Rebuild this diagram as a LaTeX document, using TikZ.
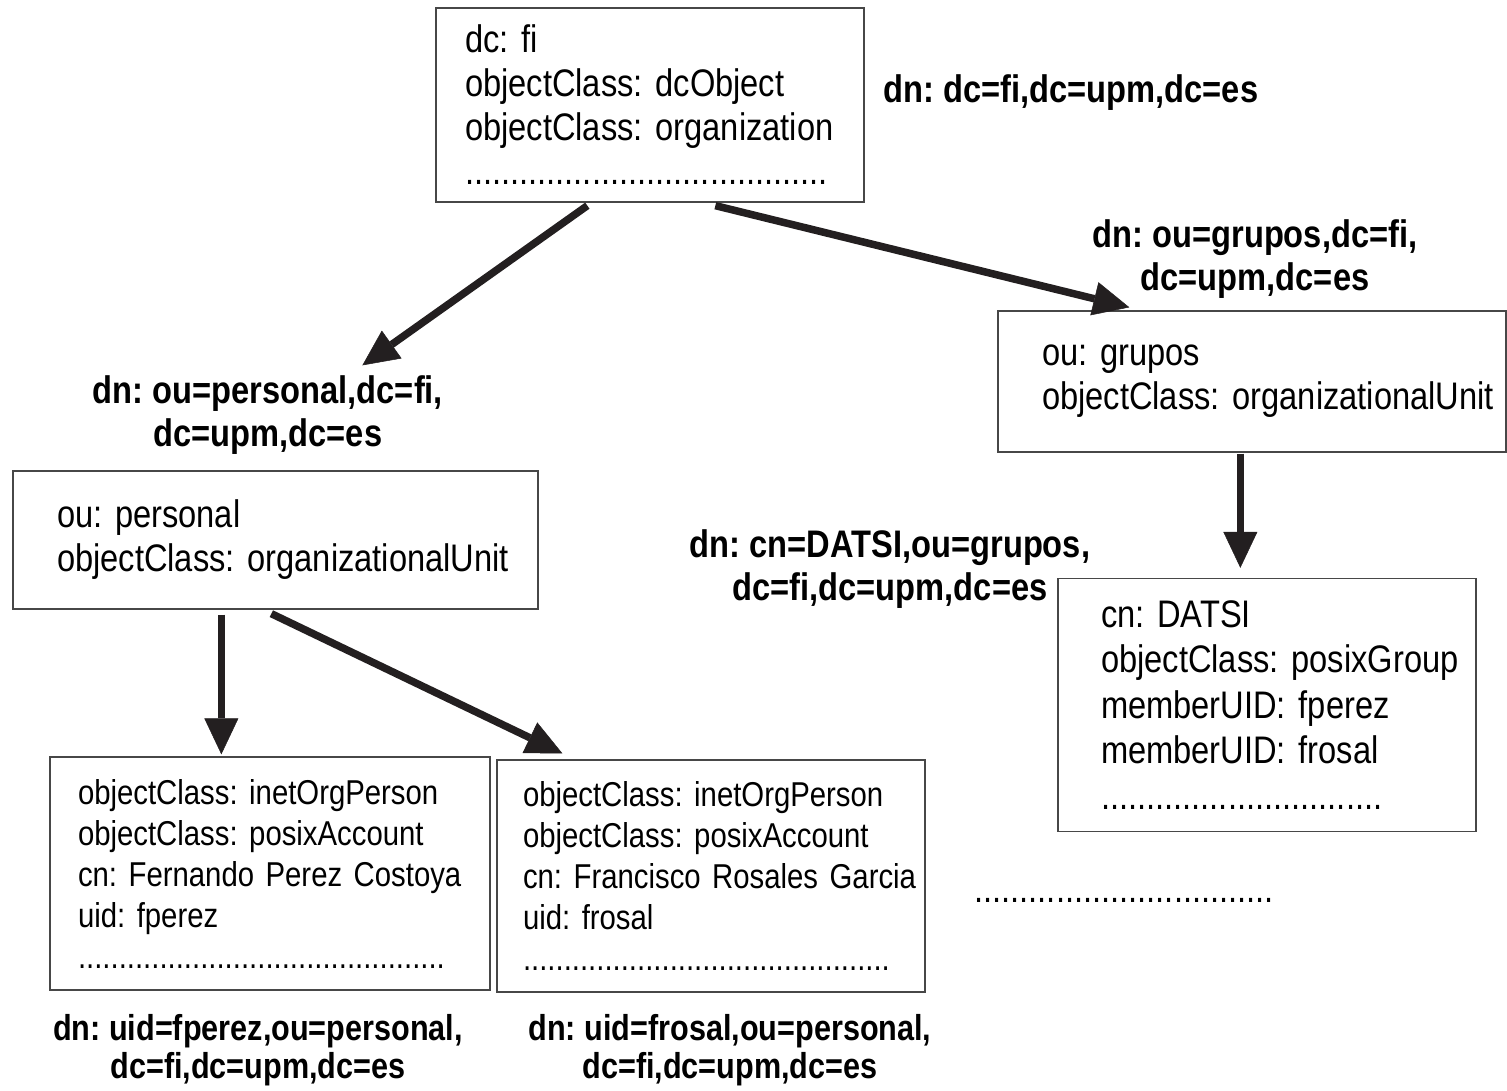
\documentclass[tikz,border=0pt]{standalone}
\usepackage{fontspec}
\setmainfont[FakeStretch=0.85]{Liberation Sans}
\usetikzlibrary{arrows.meta,calc}
\newcount\mydotcnt
\newcommand\dotrow[1]{\mydotcnt=0 \loop.\advance\mydotcnt by 1 \ifnum\mydotcnt<#1 \repeat}
\definecolor{arrowc}{HTML}{231F20}
\hyphenpenalty=10000
\exhyphenpenalty=10000
\frenchspacing
\begin{document}
\begin{tikzpicture}[x=1pt,y=-1pt,
  box/.style={draw=black!72, line width=1.3pt, rectangle, align=left, inner ysep=0pt},
  bigtxt/.style={font=\fontsize{38.4}{44}\selectfont},
  smalltxt/.style={font=\fontsize{34.5}{41}\selectfont},
  dnlabel/.style={align=center, inner sep=0pt, font=\bfseries\fontsize{38.4}{43}\selectfont},
  dnsmall/.style={align=center, inner sep=0pt, font=\bfseries\fontsize{36}{38}\selectfont},
  arr/.style={color=arrowc, line width=7.5pt, -{Triangle[length=36pt,width=34pt,line width=0.5pt]}}
]
\useasboundingbox (0,0) rectangle (1507,1090);

% boxes
\node[box, bigtxt, minimum height=194pt, text width=370pt, inner xsep=29pt] (top) at (650,105)
  {\mbox{dc: fi}\\\mbox{objectClass: dcObject}\\\mbox{objectClass: organization}\\\dotrow{40}};
\node[box, bigtxt, minimum height=141pt, text width=420pt, inner xsep=44pt] (grupos) at (1252,381.5)
  {\mbox{ou: grupos}\\\mbox{objectClass: organizationalUnit}};
\node[box, bigtxt, minimum height=138pt, text width=437pt, inner xsep=44pt] (personal) at (275.5,540)
  {\mbox{ou: personal}\\\mbox{objectClass: organizationalUnit}};
\node[box, font=\fontsize{38.4}{45.5}\selectfont, minimum height=253pt, text width=332pt, inner xsep=43pt] (datsi) at (1267,705)
  {\mbox{cn: DATSI}\\\mbox{objectClass: posixGroup}\\\mbox{memberUID: fperez}\\\mbox{memberUID: frosal}\\\dotrow{31}};
\node[box, smalltxt, minimum height=233pt, text width=384pt, inner xsep=28pt] (fperez) at (270,873.5)
  {\mbox{objectClass: inetOrgPerson}\\\mbox{objectClass: posixAccount}\\\mbox{cn: Fernando Perez Costoya}\\\mbox{uid: fperez}\\\dotrow{45}};
\node[box, smalltxt, minimum height=232pt, text width=376pt, inner xsep=26pt] (frosal) at (711,876)
  {\mbox{objectClass: inetOrgPerson}\\\mbox{objectClass: posixAccount}\\\mbox{cn: Francisco Rosales Garcia}\\\mbox{uid: frosal}\\\dotrow{45}};

% dn labels
\node[dnlabel] (ltop) at (1071,93) {dn: dc=fi,dc=upm,dc=es};
\node[dnlabel] (lgrupos) at (1255,259) {dn: ou=grupos,dc=fi,\\dc=upm,dc=es};
\node[dnlabel] (lpersonal) at (268,415) {dn: ou=personal,dc=fi,\\dc=upm,dc=es};
\node[dnlabel] (ldatsi) at (890,569) {dn: cn=DATSI,ou=grupos,\\dc=fi,dc=upm,dc=es};
\node[dnsmall] (lfperez) at (258,1050) {dn: uid=fperez,ou=personal,\\dc=fi,dc=upm,dc=es};
\node[dnsmall] (lfrosal) at (730,1050) {dn: uid=frosal,ou=personal,\\dc=fi,dc=upm,dc=es};
\node[bigtxt, inner sep=0pt] (moredots) at (1124,900) {\dotrow{33}};

% arrows
\draw[arr] ($(top.south west)+(152,3)$) -- ($(personal.north west)+(350,-105)$);
\draw[arr] ($(top.south west)+(280,3)$) -- ($(grupos.north west)+(132,-3)$);
\draw[arr] ($(grupos.south west)+(243,1)$) -- ($(datsi.north west)+(183,-10)$);
\draw[arr] ($(personal.south west)+(209,5)$) -- ($(fperez.north west)+(172,-2)$);
\draw[arr] ($(personal.south west)+(259,4)$) -- ($(frosal.north west)+(66,-6)$);
\end{tikzpicture}
\end{document}
